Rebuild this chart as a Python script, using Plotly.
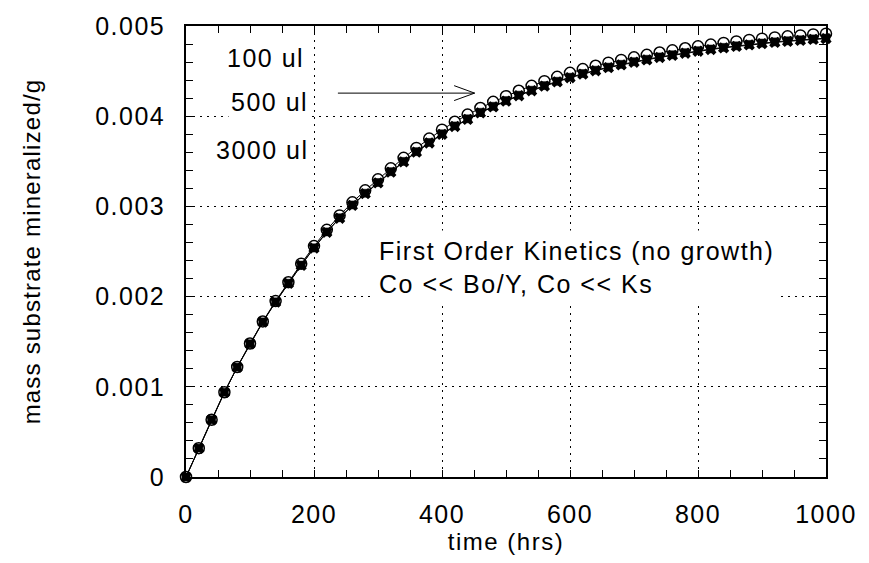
import plotly.graph_objects as go

# Sampling times (hrs)
time_hrs = [0, 20, 40, 60, 80, 100, 120, 140, 160, 180,
            200, 220, 240, 260, 280, 300, 320, 340, 360, 380,
            400, 420, 440, 460, 480, 500, 520, 540, 560, 580,
            600, 620, 640, 660, 680, 700, 720, 740, 760, 780,
            800, 820, 840, 860, 880, 900, 920, 940, 960, 980, 1000]

# Mass of substrate mineralized (g) for each inoculum volume
mass_100ul = [0.0, 0.000320, 0.000635, 0.000940, 0.001220, 0.001480, 0.001725, 0.001950, 0.002160, 0.002365,
              0.002560, 0.002740, 0.002900, 0.003045, 0.003178, 0.003300, 0.003422, 0.003538, 0.003648, 0.003752,
              0.003850, 0.003938, 0.004018, 0.004091, 0.004159, 0.004222, 0.004282, 0.004337, 0.004388, 0.004436,
              0.004481, 0.004522, 0.004559, 0.004593, 0.004624, 0.004653, 0.004680, 0.004706, 0.004730, 0.004753,
              0.004775, 0.004794, 0.004812, 0.004829, 0.004845, 0.004860, 0.004873, 0.004885, 0.004896, 0.004906,
              0.004915]

mass_500ul = [0.0, 0.000320, 0.000635, 0.000939, 0.001218, 0.001477, 0.001720, 0.001942, 0.002149, 0.002350,
              0.002541, 0.002717, 0.002874, 0.003016, 0.003146, 0.003265, 0.003385, 0.003499, 0.003607, 0.003709,
              0.003805, 0.003892, 0.003971, 0.004043, 0.004110, 0.004173, 0.004233, 0.004288, 0.004339, 0.004387,
              0.004432, 0.004473, 0.004510, 0.004544, 0.004575, 0.004604, 0.004631, 0.004657, 0.004681, 0.004704,
              0.004726, 0.004745, 0.004763, 0.004780, 0.004796, 0.004811, 0.004824, 0.004836, 0.004847, 0.004857,
              0.004866]

mass_3000ul = [0.0, 0.000319, 0.000634, 0.000938, 0.001216, 0.001475, 0.001717, 0.001939, 0.002146, 0.002346,
               0.002537, 0.002713, 0.002869, 0.003011, 0.003141, 0.003260, 0.003379, 0.003493, 0.003601, 0.003703,
               0.003799, 0.003886, 0.003965, 0.004037, 0.004104, 0.004167, 0.004227, 0.004282, 0.004333, 0.004381,
               0.004426, 0.004467, 0.004504, 0.004538, 0.004569, 0.004598, 0.004625, 0.004651, 0.004675, 0.004698,
               0.004720, 0.004739, 0.004757, 0.004774, 0.004790, 0.004805, 0.004818, 0.004830, 0.004841, 0.004851,
               0.004860]

x_tick_vals = [0, 200, 400, 600, 800, 1000]
x_tick_text = ["0", "200", "400", "600", "800", "1000"]
y_tick_vals = [0, 0.001, 0.002, 0.003, 0.004, 0.005]
y_tick_text = ["0", "0.001", "0.002", "0.003", "0.004", "0.005"]

FONT = "Liberation Sans, Arial, Helvetica, sans-serif"


def spaced(s, px=1.5):
    return f'<span style="letter-spacing:{px}px">{s}</span>'


fig = go.Figure()

fig.add_trace(go.Scatter(
    x=time_hrs, y=mass_100ul, mode="lines+markers", name="100 ul",
    line=dict(color="black", width=1),
    marker=dict(symbol="circle", size=11, color="white",
                line=dict(color="black", width=1.5)),
    cliponaxis=False,
))
fig.add_trace(go.Scatter(
    x=time_hrs, y=mass_500ul, mode="lines+markers", name="500 ul",
    line=dict(color="black", width=1),
    marker=dict(symbol="square", size=8, color="black",
                line=dict(color="black", width=0.5)),
    cliponaxis=False,
))
fig.add_trace(go.Scatter(
    x=time_hrs, y=mass_3000ul, mode="lines+markers", name="3000 ul",
    line=dict(color="black", width=1),
    marker=dict(symbol="x", size=10, color="black",
                line=dict(color="black", width=0)),
    cliponaxis=False,
))

label_font = dict(family=FONT, size=25, color="black")

annotations = [
    dict(x=187, y=0.00465, text=spaced("100 ul"), showarrow=False,
         xanchor="right", yanchor="middle", font=label_font),
    dict(x=195, y=0.004158, text=spaced("500 ul"), showarrow=False,
         xanchor="right", yanchor="middle", font=label_font,
         bgcolor="white", borderpad=2),
    dict(x=195, y=0.003621, text=spaced("3000 ul"), showarrow=False,
         xanchor="right", yanchor="middle", font=label_font),
    # arrow shaft
    dict(x=451, y=0.004256, ax=235, ay=0.004256, axref="x", ayref="y",
         text="", showarrow=True, arrowhead=0, arrowwidth=1,
         arrowcolor="black", standoff=0, startstandoff=0),
    # arrow barbs
    dict(x=451, y=0.004256, ax=-22, ay=-8, text="", showarrow=True,
         arrowhead=0, arrowwidth=1, arrowcolor="black", standoff=0),
    dict(x=451, y=0.004256, ax=-22, ay=8, text="", showarrow=True,
         arrowhead=0, arrowwidth=1, arrowcolor="black", standoff=0),
    dict(x=290, y=0.002320,
         text=spaced("First Order Kinetics (no growth)") + "<br>" +
         spaced("Co &lt;&lt; Bo/Y, Co &lt;&lt; Ks"),
         showarrow=False, xanchor="left", yanchor="middle", align="left",
         font=label_font, bgcolor="white", borderpad=6),
]

axis_common = dict(
    showline=True, linecolor="black", linewidth=1.5, mirror="ticks",
    ticks="inside", ticklen=7, tickwidth=1, tickcolor="black",
    showgrid=True, gridcolor="black", gridwidth=1, griddash="2px,5px",
    zeroline=False,
    tickfont=dict(family=FONT, size=25, color="black"),
)

fig.update_layout(
    width=869, height=563,
    margin=dict(l=186, r=36, t=20, b=86),
    paper_bgcolor="white", plot_bgcolor="white",
    showlegend=False,
    annotations=annotations,
    xaxis=dict(
        range=[0, 1000], tickmode="array", tickvals=x_tick_vals,
        ticktext=[spaced(t) for t in x_tick_text],
        minor=dict(dtick=50, ticks="inside", ticklen=7, tickwidth=1,
                   tickcolor="black", showgrid=False),
        ticklabelstandoff=14,
        title=dict(text=spaced("time (hrs)", 1.5), standoff=4,
                   font=dict(family=FONT, size=24, color="black")),
        **axis_common,
    ),
    yaxis=dict(
        range=[0, 0.005], tickmode="array", tickvals=y_tick_vals,
        ticktext=[spaced(t) for t in y_tick_text],
        minor=dict(dtick=0.0002, ticks="inside", ticklen=7, tickwidth=1,
                   tickcolor="black", showgrid=False),
        ticklabelstandoff=14,
        title=dict(text=spaced("mass substrate mineralized/g", 1.2), standoff=48,
                   font=dict(family=FONT, size=24, color="black")),
        **axis_common,
    ),
)

fig.write_html("out.html")
